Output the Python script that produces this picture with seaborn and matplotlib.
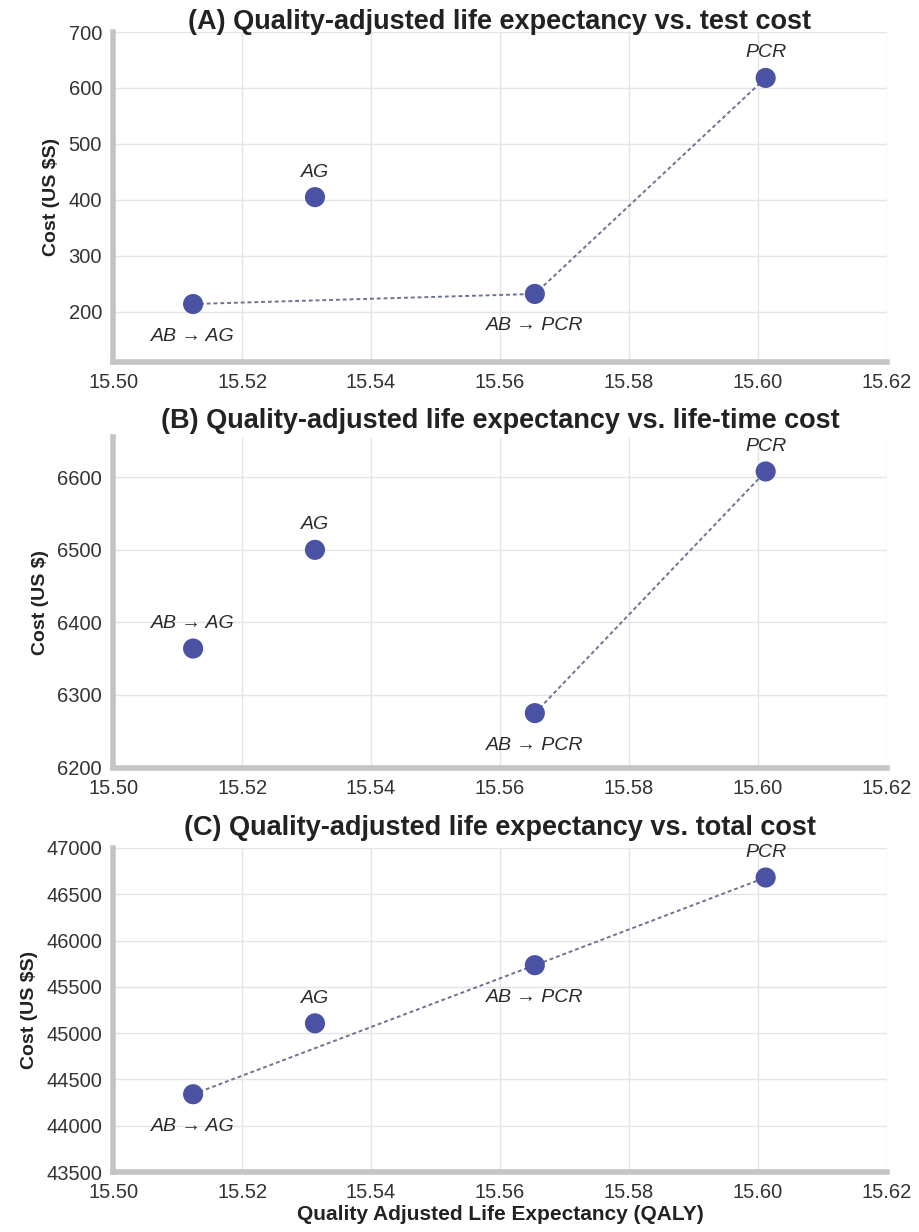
import matplotlib
matplotlib.use("Agg")
import matplotlib.pyplot as plt
import seaborn as sns
import pandas as pd
from matplotlib.ticker import FormatStrFormatter

# ---- data ----
strategies = ["AB → AG", "AG", "AB → PCR", "PCR"]
qaly = [15.5124, 15.5313, 15.5654, 15.6012]
test_cost = [214, 405, 232, 618]
lifetime_cost = [6364, 6500, 6275, 6608]
total_cost = [44340, 45106, 45734, 46681]

titles = [
    "(A) Quality-adjusted life expectancy vs. test cost",
    "(B) Quality-adjusted life expectancy vs. life-time cost",
    "(C) Quality-adjusted life expectancy vs. total cost",
]
ylabels = ["Cost (US \\$S)", "Cost (US \\$)", "Cost (US \\$S)"]
xlabel = "Quality Adjusted Life Expectancy (QALY)"
frontiers = [[0, 2, 3], [2, 3], [0, 2, 3]]
label_side = [["below", "above", "below", "above"],
              ["above", "above", "below", "above"],
              ["below", "above", "below", "above"]]
yticks_list = [list(range(200, 701, 100)), list(range(6200, 6601, 100)),
               list(range(43500, 47001, 500))]
ylims = [(110, 700), (6200, 6655), (43500, 47000)]
xticks = [15.50, 15.52, 15.54, 15.56, 15.58, 15.60, 15.62]

sns.set_theme(style="whitegrid")
plt.rcParams["font.family"] = ["Liberation Sans", "DejaVu Sans"]

fig = plt.figure(figsize=(9.2, 12.32), dpi=100)
positions = [
    [0.123, 0.706, 0.841, 0.268],
    [0.123, 0.377, 0.841, 0.268],
    [0.123, 0.0487, 0.841, 0.263],
]
title_pads = [2, 7, 9]

marker_color = "#4a52a3"
line_color = "#6d7392"

for i, costs in enumerate([test_cost, lifetime_cost, total_cost]):
    ax = fig.add_axes(positions[i])
    df = pd.DataFrame({"qaly": qaly, "cost": costs, "strategy": strategies})
    fr = df.iloc[frontiers[i]]
    sns.lineplot(data=fr, x="qaly", y="cost", sort=False, ax=ax,
                 color=line_color, linestyle=(0, (2, 1.5)), linewidth=1.4,
                 zorder=2)
    sns.scatterplot(data=df, x="qaly", y="cost", ax=ax, s=210,
                    color=marker_color, edgecolor="none", zorder=3)
    for j, row in df.iterrows():
        off = 25 if label_side[i][j] == "above" else -32
        ax.annotate(row["strategy"], (row["qaly"], row["cost"]),
                    xytext=(0, off), textcoords="offset pixels",
                    ha="center", va="center", fontsize=14, style="italic",
                    color="#2a2a2a", zorder=4)
    ax.set_xlim(15.50, 15.62)
    ax.set_ylim(*ylims[i])
    ax.set_xticks(xticks)
    ax.set_yticks(yticks_list[i])
    ax.xaxis.set_major_formatter(FormatStrFormatter("%.2f"))
    ax.tick_params(axis="both", labelsize=14.5, length=0, pad=8,
                   labelcolor="#333333")
    ax.grid(True, color="#e4e4e4", linewidth=1.0)
    for side in ["top", "right"]:
        ax.spines[side].set_visible(False)
    for side in ["left", "bottom"]:
        ax.spines[side].set_visible(True)
        ax.spines[side].set_color("#c4c4c4")
        ax.spines[side].set_linewidth(4)
    ax.set_facecolor("white")
    ax.set_ylabel(ylabels[i], fontsize=14, fontweight="bold", color="#222222",
                  labelpad=6)
    if i == 2:
        ax.set_xlabel(xlabel, fontsize=15, fontweight="bold", color="#222222",
                      labelpad=2)
    else:
        ax.set_xlabel("")
    ax.set_title(titles[i], fontsize=19.5, fontweight="bold", color="#222222",
                 pad=title_pads[i])

fig.savefig("out.png", dpi=100, facecolor="white")
